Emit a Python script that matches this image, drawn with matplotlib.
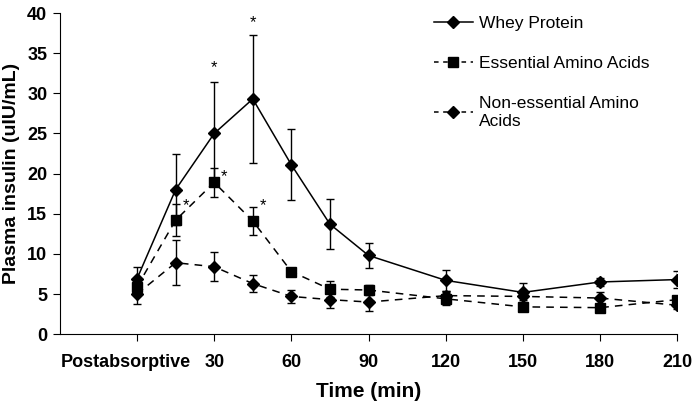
import matplotlib.pyplot as plt
from matplotlib.lines import Line2D

plt.rcParams['font.family'] = ['Liberation Sans', 'DejaVu Sans']

# Time points (min), 0 = postabsorptive
times = [0, 15, 30, 45, 60, 75, 90, 120, 150, 180, 210]

whey = [6.9, 18.0, 25.0, 29.3, 21.1, 13.7, 9.8, 6.7, 5.2, 6.5, 6.8]
whey_err = [1.5, 4.4, 6.4, 8.0, 4.4, 3.1, 1.5, 1.3, 1.2, 0.5, 1.1]

eaa = [5.9, 14.2, 18.9, 14.1, 7.8, 5.6, 5.5, 4.4, 3.4, 3.3, 4.3]
eaa_err = [1.0, 2.0, 1.8, 1.8, 0.4, 1.0, 0.6, 0.8, 0.3, 0.3, 0.5]

neaa = [5.0, 8.9, 8.4, 6.3, 4.7, 4.3, 4.0, 4.8, 4.7, 4.5, 3.6]
neaa_err = [1.2, 2.8, 1.8, 1.1, 0.85, 1.05, 1.1, 0.6, 0.5, 0.8, 0.5]

xticks = [0, 30, 60, 90, 120, 150, 180, 210]
xtick_labels = ["", "30", "60", "90", "120", "150", "180", "210"]
first_label = "Postabsorptive"

# significance stars: (x, y)
star_x = [30, 45, 15, 30, 45]
star_y = [33.2, 38.8, 16.0, 19.6, 16.0]
star_dx = [0, 0, 4, 4, 4]

fig = plt.figure(figsize=(6.96, 4.08), dpi=100)
ax = fig.add_axes([0.086, 0.181, 0.887, 0.787])

dash = (0, (5, 4))
ax.errorbar(times, whey, yerr=whey_err, color='black', lw=1.1, marker='D',
            ms=6.5, capsize=3, elinewidth=1)
ax.errorbar(times, eaa, yerr=eaa_err, color='black', lw=1.1, ls=dash,
            marker='s', ms=7.5, capsize=3, elinewidth=1)
ax.errorbar(times, neaa, yerr=neaa_err, color='black', lw=1.1, ls=dash,
            marker='D', ms=6.5, capsize=3, elinewidth=1)

for x, y, dx in zip(star_x, star_y, star_dx):
    ax.text(x + dx, y, '*', ha='center', va='center', fontsize=12)

ax.set_xlim(-30, 210)
ax.set_ylim(0, 40)
ax.set_yticks(range(0, 41, 5))
ax.set_xticks(xticks)
ax.set_xticklabels(xtick_labels)
for lab in ax.get_xticklabels() + ax.get_yticklabels():
    lab.set_fontweight('bold')
    lab.set_fontsize(13)
ax.tick_params(axis='x', direction='out', length=5, pad=9)
ax.tick_params(axis='y', direction='out', length=5, pad=4)

# long first category label sits a bit left of its tick, as in the original
ax.annotate(first_label, xy=(xticks[0], 0), xycoords=('data', 'axes fraction'),
            xytext=(-11, -28), textcoords='offset pixels', ha='center',
            va='center', fontsize=13, fontweight='bold', annotation_clip=False)

ax.spines['top'].set_visible(False)
ax.spines['right'].set_visible(False)

ax.set_xlabel('Time (min)', fontsize=15, fontweight='bold', labelpad=8)
ax.set_ylabel('Plasma insulin (uIU/mL)', fontsize=14, fontweight='bold',
              labelpad=5)

handles = [
    Line2D([], [], color='black', lw=1.1, marker='D', ms=6),
    Line2D([], [], color='black', lw=1.1, ls=(0, (3, 3)), marker='s', ms=7),
    Line2D([], [], color='black', lw=1.1, ls=(0, (3, 3)), marker='D', ms=6),
]
labels = ['Whey Protein', 'Essential Amino Acids', 'Non-essential Amino\nAcids']
ax.legend(handles, labels, loc='upper left', frameon=False, fontsize=12.5,
          handlelength=2.25, handletextpad=0.35, labelspacing=1.45,
          borderaxespad=0, bbox_to_anchor=(0.594, 1.014))

fig.savefig('out.png', dpi=100)
